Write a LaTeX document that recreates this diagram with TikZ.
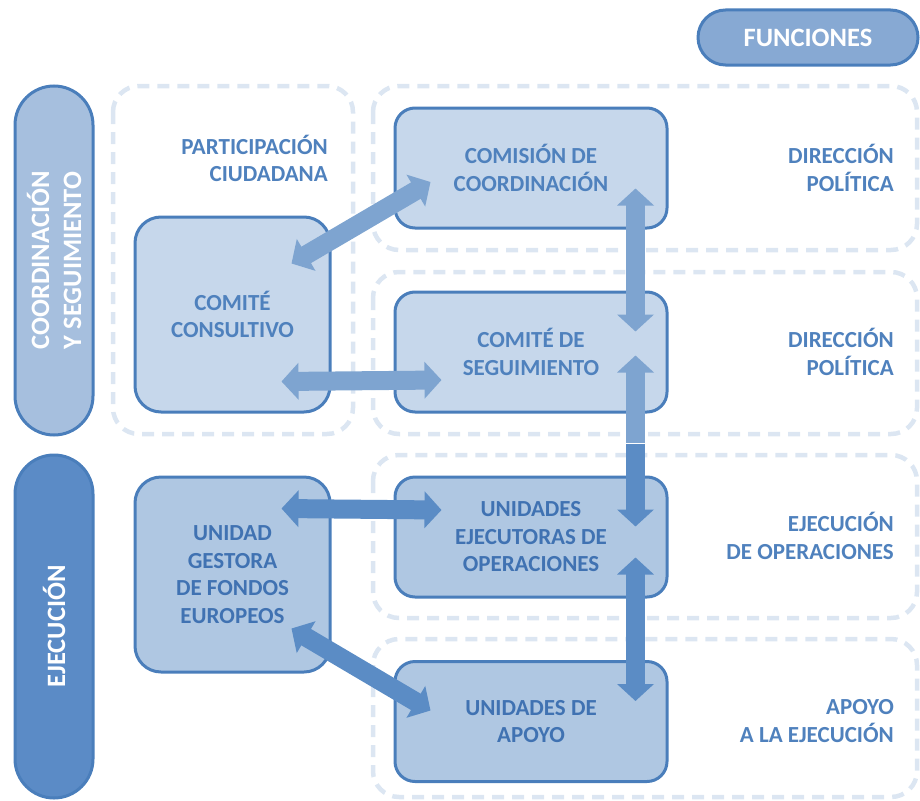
\documentclass[tikz,border=0pt]{standalone}
\usepackage{fontspec}
\setmainfont{Carlito}
\usetikzlibrary{positioning,arrows.meta}

\definecolor{dashblue}{RGB}{220,230,242}
\definecolor{lineblue}{RGB}{74,126,187}
\definecolor{textblue}{RGB}{79,129,189}
\definecolor{textdark}{RGB}{64,114,178}
\definecolor{filltop}{RGB}{198,215,235}
\definecolor{fillbot}{RGB}{175,199,226}
\definecolor{pilltop}{RGB}{166,191,222}
\definecolor{pillbot}{RGB}{91,139,198}
\definecolor{pillfun}{RGB}{135,169,211}
\definecolor{arrowtop}{RGB}{126,164,208}
\definecolor{arrowbot}{RGB}{91,140,197}

\newcommand{\boxfont}{\bfseries\fontsize{23}{27.5}\selectfont}
\newcommand{\pillfont}{\bfseries\fontsize{26.5}{32}\selectfont}

\tikzset{
  dashbox/.style={draw=dashblue, line width=4.5pt, dash pattern=on 12pt off 8pt, rounded corners=26pt},
  unit/.style={draw=lineblue, line width=3pt, rounded corners=20pt, inner sep=0pt,
    minimum width=272pt, minimum height=120pt, align=center, font=\boxfont},
  bigunit/.style={unit, rounded corners=26pt, minimum width=195pt, minimum height=195pt},
  pill/.style={draw=lineblue, line width=3pt, rounded corners=39pt, inner sep=0pt,
    minimum height=78pt, text=white, align=center, font=\pillfont},
  func/.style={anchor=east, inner sep=0pt, align=right, text=textblue, font=\boxfont},
  biarrow/.style={line width=19pt, {Triangle[length=17pt,width=36pt]}-{Triangle[length=17pt,width=36pt]}},
  uparrow/.style={line width=19pt, -{Triangle[length=17pt,width=36pt]}}
}

\begin{document}
\begin{tikzpicture}[x=1pt,y=-1pt]
\useasboundingbox (0,0) rectangle (920,800);

% Dashed frames
\draw[dashbox] (113,86) rectangle (353,434);
\foreach \t/\b in {86/250, 272/434, 455/618, 639/797} {
    \draw[dashbox] (373,\t) rectangle (917,\b);
}

% Side pills
\node[pill, fill=pilltop, rotate=90, minimum width=349pt] (coord) at (54,260.5) {COORDINACIÓN\\Y SEGUIMIENTO};
\node[pill, fill=pillbot, rotate=90, minimum width=343pt] (ejec) at (54,626.5) {EJECUCIÓN};
\node[pill, fill=pillfun, rounded corners=27.5pt, minimum width=220pt, minimum height=55pt] (funciones) at (808,37.5) {FUNCIONES};

% Units
\node[bigunit, fill=filltop, text=textblue] (consultivo) at (232.5,314.5) {COMITÉ\\CONSULTIVO};
\node[unit, fill=filltop, text=textblue] (comision) at (531,168) {COMISIÓN DE\\COORDINACIÓN};
\node[unit, fill=filltop, text=textblue] (seguimiento) at (531,352) {COMITÉ DE\\SEGUIMIENTO};
\node[bigunit, fill=fillbot, text=textdark] (gestora) at (232.5,574.5) {UNIDAD\\GESTORA\\DE FONDOS\\EUROPEOS};
\node[unit, fill=fillbot, text=textdark] (ejecutoras) at (531,537) {UNIDADES\\EJECUTORAS DE\\OPERACIONES};
\node[unit, fill=fillbot, text=textdark] (apoyo) at (531,721.5) {UNIDADES DE\\APOYO};

% Labels
\node[func] (participacion) at (328,158.5) {PARTICIPACIÓN\\CIUDADANA};
\foreach \y/\l [count=\i] in {168/{DIRECCIÓN\\POLÍTICA}, 352/{DIRECCIÓN\\POLÍTICA},
    536/{EJECUCIÓN\\DE OPERACIONES}, 721/{APOYO\\A LA EJECUCIÓN}} {
    \node[func] (fun\i) at (894,\y) {\l};
}

% Arrow ends
\coordinate (a1) at ([xshift=-40pt,yshift=-48pt]consultivo.north east);
\coordinate (b1) at ([xshift=37pt,yshift=-14pt]comision.west);
\coordinate (a2) at ([xshift=-50pt,yshift=32pt]consultivo.south east);
\coordinate (b2) at ([xshift=48pt,yshift=-28pt]seguimiento.west);
\coordinate (a3) at ([xshift=-33pt,yshift=41pt]comision.south east);
\coordinate (b3) at ([xshift=-33pt,yshift=-41pt]seguimiento.north east);
\coordinate (a4) at ([xshift=-33pt,yshift=-65pt]seguimiento.north east);
\coordinate (m4) at ([xshift=-33pt,yshift=-29pt]seguimiento.south east);
\coordinate (n4) at ([xshift=-33pt,yshift=32pt]ejecutoras.north east);
\coordinate (b4) at ([xshift=-33pt,yshift=-51pt]ejecutoras.north east);
\coordinate (a5) at ([xshift=-50pt,yshift=-33pt]gestora.north east);
\coordinate (b5) at ([xshift=48pt,yshift=27pt]ejecutoras.west);
\coordinate (a6) at ([xshift=-40pt,yshift=45pt]gestora.south east);
\coordinate (b6) at ([xshift=37pt,yshift=11pt]apoyo.west);
\coordinate (a7) at ([xshift=-33pt,yshift=41pt]ejecutoras.south east);
\coordinate (b7) at ([xshift=-33pt,yshift=-41pt]apoyo.north east);

% Arrows
\draw[biarrow, arrowtop] (a1) -- (b1);
\draw[biarrow, arrowtop] (a2) -- (b2);
\draw[biarrow, arrowtop] (a3) -- (b3);
\draw[uparrow, arrowtop] (m4) -- (a4);
\draw[uparrow, arrowbot] (n4) -- (b4);
\draw[biarrow, arrowbot] (a5) -- (b5);
\draw[biarrow, arrowbot] (a6) -- (b6);
\draw[biarrow, arrowbot] (a7) -- (b7);

\end{tikzpicture}
\end{document}
